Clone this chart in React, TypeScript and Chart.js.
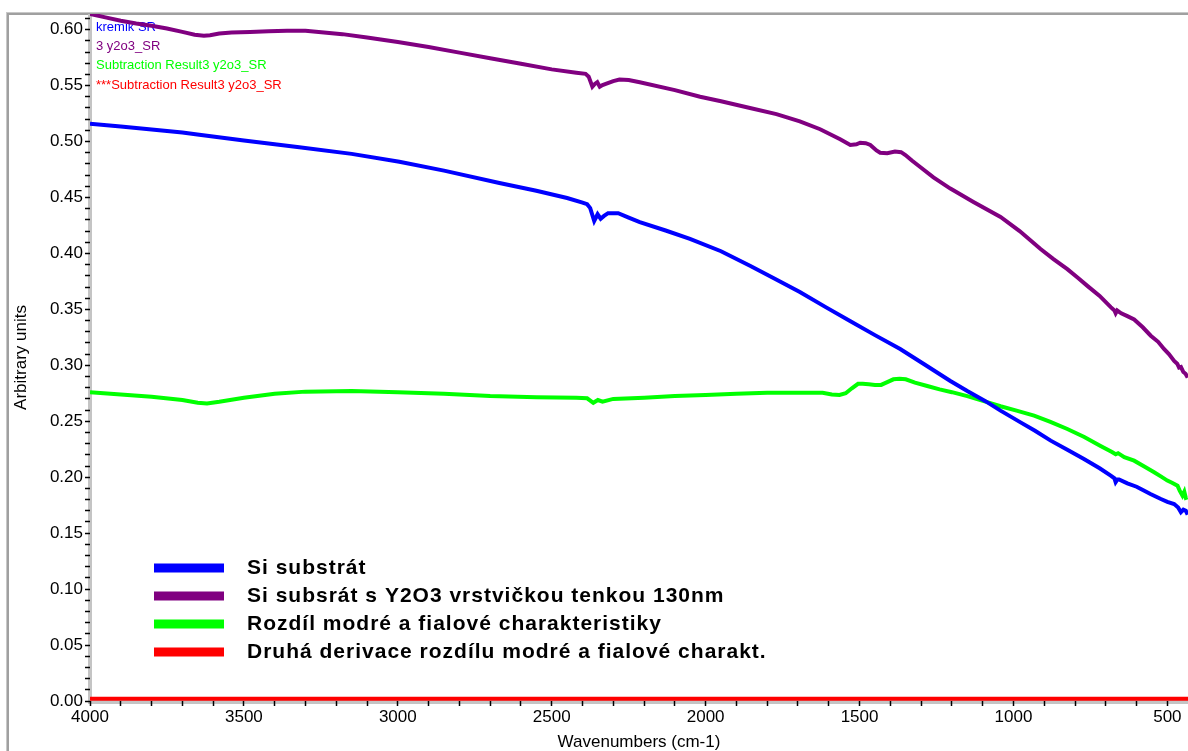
import React, { useEffect, useRef } from "react";
import { Chart, registerables } from "chart.js";

Chart.register(...registerables);

// ---------- data ----------
const xAxisMin = 433;
const xAxisMax = 4000;
const yAxisMin = 0;
const yAxisMax = 0.614;
const xMajorStep = 500;
const xMinorStep = 100;
const yMinorStep = 0.01;

const seriesNames = [
  "Si substrát",
  "Si subsrát s Y2O3 vrstvičkou tenkou 130nm",
  "Rozdíl modré a fialové charakteristiky",
  "Druhá derivace rozdílu modré a fialové charakt.",
];
const fileNames = [
  "kremik SR",
  "3 y2o3_SR",
  "Subtraction Result3 y2o3_SR",
  "***Subtraction Result3 y2o3_SR",
];
const seriesColors = ["#0000ff", "#800080", "#00ff00", "#ff0000"];

const siX = [4000, 3900, 3808, 3700, 3645, 3500, 3320, 3150, 2995, 2850, 2670, 2550, 2450, 2400, 2385, 2375, 2362, 2351, 2341, 2330, 2317, 2300, 2284, 2250, 2214, 2130, 2051, 1950, 1856, 1780, 1694, 1610, 1531, 1450, 1368, 1290, 1205, 1150, 1091, 1042, 977, 930, 879, 825, 771, 720, 684, 672, 668, 662, 657, 630, 600, 586, 555, 521, 500, 478, 465, 456, 448, 440, 434];
const siY = [0.516, 0.5135, 0.511, 0.508, 0.506, 0.501, 0.495, 0.489, 0.482, 0.474, 0.463, 0.456, 0.4495, 0.4455, 0.444, 0.4405, 0.429, 0.435, 0.431, 0.4335, 0.436, 0.436, 0.436, 0.432, 0.428, 0.4205, 0.413, 0.402, 0.389, 0.378, 0.3656, 0.352, 0.3396, 0.327, 0.3146, 0.301, 0.286, 0.277, 0.268, 0.2595, 0.249, 0.2415, 0.2327, 0.2245, 0.2163, 0.208, 0.2014, 0.199, 0.1955, 0.198, 0.198, 0.1945, 0.1915, 0.1895, 0.185, 0.1805, 0.178, 0.176, 0.173, 0.1687, 0.171, 0.17, 0.1665];

const y2o3X = [4000, 3950, 3900, 3850, 3800, 3750, 3700, 3660, 3630, 3610, 3580, 3540, 3480, 3420, 3360, 3300, 3240, 3180, 3100, 3000, 2900, 2800, 2700, 2600, 2500, 2420, 2390, 2380, 2368, 2360, 2352, 2344, 2335, 2320, 2300, 2280, 2250, 2214, 2100, 2018, 1950, 1856, 1770, 1694, 1628, 1563, 1530, 1510, 1498, 1480, 1465, 1445, 1433, 1410, 1385, 1365, 1351, 1330, 1302, 1260, 1205, 1130, 1042, 980, 912, 870, 825, 790, 760, 720, 684, 672, 668, 663, 650, 630, 608, 580, 554, 530, 511, 495, 478, 468, 462, 456, 448, 441, 434];
const y2o3Y = [0.614, 0.611, 0.608, 0.6055, 0.6035, 0.601, 0.598, 0.5955, 0.5945, 0.595, 0.5965, 0.5975, 0.598, 0.5985, 0.599, 0.599, 0.5975, 0.596, 0.593, 0.589, 0.5845, 0.5795, 0.5745, 0.5695, 0.5645, 0.5615, 0.5605, 0.558, 0.549, 0.5515, 0.553, 0.549, 0.5505, 0.552, 0.554, 0.5555, 0.555, 0.553, 0.546, 0.54, 0.536, 0.53, 0.5245, 0.518, 0.511, 0.502, 0.497, 0.4975, 0.499, 0.4985, 0.497, 0.492, 0.49, 0.4895, 0.491, 0.4905, 0.488, 0.483, 0.477, 0.468, 0.458, 0.446, 0.4326, 0.42, 0.404, 0.395, 0.386, 0.378, 0.371, 0.362, 0.352, 0.349, 0.3465, 0.349, 0.3465, 0.344, 0.341, 0.334, 0.3265, 0.321, 0.3146, 0.31, 0.304, 0.3015, 0.298, 0.2985, 0.294, 0.2925, 0.289];

const diffX = [4000, 3900, 3800, 3700, 3650, 3620, 3580, 3500, 3400, 3300, 3150, 3000, 2850, 2700, 2550, 2420, 2385, 2365, 2350, 2335, 2300, 2200, 2100, 2000, 1900, 1800, 1700, 1620, 1590, 1565, 1545, 1525, 1505, 1490, 1470, 1450, 1430, 1410, 1390, 1370, 1350, 1320, 1280, 1240, 1200, 1150, 1091, 1042, 990, 933, 880, 825, 770, 717, 680, 668, 660, 640, 608, 575, 543, 520, 500, 485, 467, 460, 451, 445, 440, 434];
const diffY = [0.276, 0.274, 0.272, 0.269, 0.2665, 0.266, 0.2675, 0.271, 0.2745, 0.2765, 0.277, 0.276, 0.2745, 0.2725, 0.2715, 0.271, 0.2705, 0.2665, 0.269, 0.2675, 0.27, 0.271, 0.2725, 0.2735, 0.2745, 0.2755, 0.2755, 0.2755, 0.274, 0.2735, 0.275, 0.2795, 0.2835, 0.2835, 0.283, 0.2825, 0.2825, 0.285, 0.2875, 0.288, 0.2875, 0.2845, 0.2815, 0.2785, 0.276, 0.2725, 0.2675, 0.2634, 0.2595, 0.255, 0.2495, 0.2431, 0.236, 0.228, 0.2225, 0.2205, 0.2215, 0.218, 0.2148, 0.2095, 0.2044, 0.2005, 0.197, 0.195, 0.1924, 0.188, 0.1835, 0.187, 0.1815, 0.182];

const derivX = [4000, 3000, 2000, 1000, 433];
const derivY = [0.002, 0.002, 0.002, 0.002, 0.002];

const FONT = "'Liberation Sans', Arial, sans-serif";

const toPoints = (xs: number[], ys: number[]) => xs.map((x, i) => ({ x, y: ys[i] }));

const decorPlugin = {
  id: "decor",
  beforeDraw(chart: any) {
    const { ctx, chartArea, width, height } = chart;
    ctx.save();
    // outer frame (left + top)
    ctx.fillStyle = "#c8c8c8";
    ctx.fillRect(6, chartArea.top - 2, width, 1);
    ctx.fillRect(6, chartArea.top - 2, 1, height);
    ctx.fillStyle = "#a0a0a0";
    ctx.fillRect(7, chartArea.top - 1, width, 2);
    ctx.fillRect(7, chartArea.top - 1, 2, height);
    // axis bands
    ctx.fillStyle = "#c4c4c4";
    ctx.fillRect(chartArea.left - 2, chartArea.top, 4, chartArea.bottom - chartArea.top + 2);
    ctx.fillRect(chartArea.left - 2, chartArea.bottom - 1, width, 4);
    ctx.restore();
  },
  beforeDatasetsDraw(chart: any) {
    const { ctx, chartArea } = chart;
    ctx.save();
    ctx.font = `13px ${FONT}`;
    ctx.textBaseline = "middle";
    ctx.textAlign = "left";
    fileNames.forEach((t, i) => {
      ctx.fillStyle = seriesColors[i];
      ctx.fillText(t, chartArea.left + 6, chartArea.top + 13.5 + i * 19.2);
    });
    // legend
    const lx = chartArea.left + 64;
    const ly = chartArea.bottom - 133;
    ctx.font = `bold 21px ${FONT}`;
    try { (ctx as any).letterSpacing = "1px"; } catch (e) {}
    seriesNames.forEach((t, i) => {
      const cy = ly + i * 28;
      ctx.fillStyle = seriesColors[i];
      ctx.fillRect(lx, cy - 4.5, 70, 9);
      ctx.fillStyle = "#000";
      ctx.fillText(t, lx + 93, cy);
    });
    ctx.restore();
  },
};

export default function App() {
  const ref = useRef<HTMLCanvasElement | null>(null);
  useEffect(() => {
    if (!ref.current) return;
    const datasets = [
      toPoints(siX, siY),
      toPoints(y2o3X, y2o3Y),
      toPoints(diffX, diffY),
      toPoints(derivX, derivY),
    ].map((data, i) => ({
      label: seriesNames[i],
      data,
      borderColor: seriesColors[i],
      backgroundColor: seriesColors[i],
      borderWidth: 4,
      pointRadius: 0,
      tension: 0,
      fill: false,
    }));
    const chart = new Chart(ref.current, {
      type: "line",
      data: { datasets },
      options: {
        animation: false,
        responsive: false,
        maintainAspectRatio: false,
        layout: { padding: { top: 14, left: 0, right: 0, bottom: 0 } },
        plugins: { legend: { display: false }, tooltip: { enabled: false } },
        scales: {
          x: {
            type: "linear",
            reverse: true,
            min: xAxisMin,
            max: xAxisMax,
            afterFit: (s: any) => { s.height = 50; },
            border: { display: false },
            grid: { drawOnChartArea: false, drawTicks: true, tickLength: 5, tickColor: "#000", tickWidth: 1.5 },
            ticks: {
              stepSize: xMinorStep,
              autoSkip: false,
              maxRotation: 0,
              includeBounds: false,
              padding: 1,
              color: "#000",
              font: { family: FONT, size: 17 },
              callback: (v: any) => (Math.round(v) % xMajorStep === 0 ? String(Math.round(v)) : ""),
            },
            title: {
              display: true,
              text: "Wavenumbers (cm-1)",
              color: "#000",
              font: { family: FONT, size: 17, lineHeight: 1 },
              padding: { top: 0, bottom: 0 },
            },
          },
          y: {
            type: "linear",
            min: yAxisMin,
            max: yAxisMax,
            afterFit: (s: any) => { s.width = 90; },
            border: { display: false },
            grid: { drawOnChartArea: false, drawTicks: true, tickLength: 5, tickColor: "#000", tickWidth: 1.5 },
            ticks: {
              stepSize: yMinorStep,
              autoSkip: false,
              includeBounds: false,
              padding: 2,
              color: "#000",
              font: { family: FONT, size: 17 },
              callback: (v: any) => (Math.round(v * 100) % 5 === 0 ? Number(v).toFixed(2) : ""),
            },
            title: {
              display: true,
              text: "Arbitrary units",
              color: "#000",
              font: { family: FONT, size: 17, lineHeight: 1 },
              padding: { top: 12.5, bottom: 0 },
            },
          },
        },
      },
      plugins: [decorPlugin],
    } as any);
    return () => chart.destroy();
  }, []);
  return (
    <div style={{ position: "absolute", left: 0, top: 0, width: 1188, height: 751, background: "#fff" }}>
      <canvas ref={ref} width={1188} height={751} style={{ width: 1188, height: 751, display: "block" }} />
    </div>
  );
}
